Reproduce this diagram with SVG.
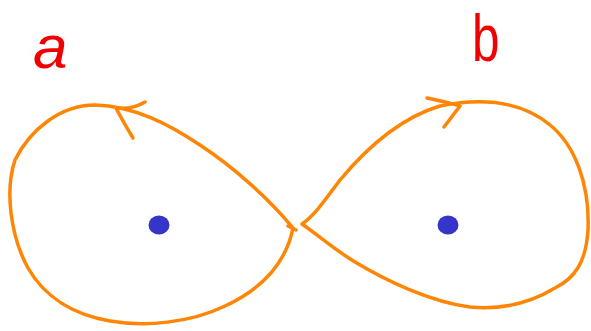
<svg xmlns="http://www.w3.org/2000/svg" width="591" height="331" viewBox="0 0 591 331">
<style>
.loop{fill:none;stroke:#FF8505;stroke-width:3.5;stroke-linecap:round;stroke-linejoin:round}
.dot{fill:#3535C9}
.lbl{fill:#F00000;font-family:"Liberation Sans",Arial,sans-serif}
</style>
<rect width="591" height="331" fill="#ffffff"/>
<g id="label-a"><text class="lbl" x="33" y="68" font-size="62" font-style="italic">a</text></g>
<g id="label-b"><text class="lbl" transform="translate(472,61) scale(0.75,1)" x="0" y="0" font-size="66">b</text></g>
<g id="node-a"><ellipse class="dot" cx="159" cy="225" rx="10.5" ry="9.5"/></g>
<g id="node-b"><ellipse class="dot" cx="448" cy="225" rx="10.5" ry="9.5"/></g>
<g id="connectors">
<path class="loop" d="M293,228 C270,200 235,168 200,145 C170,125 135,106 95,105 C60,105 30,130 15,160 C5,190 10,235 28,268 C45,298 75,315 110,321 C145,327 190,323 225,306 C255,292 285,268 293,228"/>
<path class="loop" d="M288,226 L296,230"/>
<path class="loop" d="M145,102 C137,107 126,109 116,108 C121,118 127,128 133,138"/>
<path class="loop" d="M302,224 C315,215 325,200 340,180 C365,150 400,118 440,106 C480,98 520,100 550,125 C575,145 590,185 588,230 C586,262 575,278 555,288 C530,303 500,310 470,307 C430,302 385,280 355,262 C335,250 318,235 302,224"/>
<path class="loop" d="M427,98 C437,100 450,103 460,106 L444,127"/>
</g>
</svg>
